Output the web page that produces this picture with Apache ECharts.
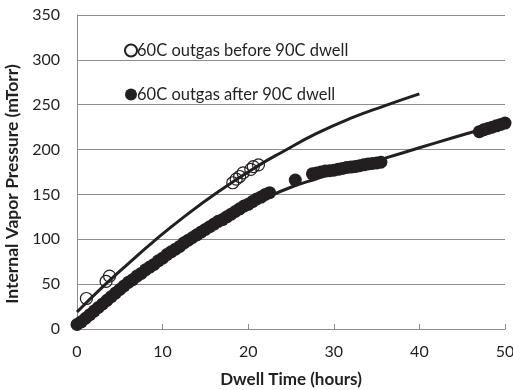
<!DOCTYPE html>
<html>
<head>
<meta charset="utf-8">
<script src="https://cdn.jsdelivr.net/npm/echarts@6/dist/echarts.min.js"></script>
<style>
html, body { margin: 0; padding: 0; background: #fff; }
#chart { width: 513px; height: 390px; }
</style>
</head>
<body>
<div id="chart"></div>
<script>
/* Open circles: 60C outgas before 90C dwell [hours, mTorr] */
var beforePoints = [
    [1.1, 34], [3.4, 53], [3.8, 59],
    [18.2, 163], [18.6, 167], [19.0, 170], [19.4, 174],
    [20.3, 178], [20.6, 181], [21.2, 183]
];

/* Filled circles: 60C outgas after 90C dwell [hours, mTorr] */
var afterPoints = [
    [0, 5], [0.5, 8], [1, 12], [1.5, 16], [2, 20], [2.5, 24], [3, 28], [3.5, 32],
    [4, 36], [4.5, 40], [5, 44], [5.5, 48], [6, 52], [6.5, 55], [7, 59], [7.5, 62],
    [8, 66], [8.5, 69], [9, 72], [9.5, 76], [10, 79], [10.5, 83], [11, 86], [11.5, 89],
    [12, 92], [12.5, 96], [13, 99], [13.5, 102], [14, 105], [14.5, 108], [15, 111],
    [15.5, 114], [16, 117], [16.5, 120], [17, 122], [17.5, 125], [18, 128], [18.5, 131],
    [19, 134], [19.5, 137], [20, 139], [20.5, 142], [21, 145], [21.5, 147], [22, 150],
    [22.5, 152],
    [25.5, 166],
    [27.5, 173], [28, 174], [28.5, 175], [29, 176], [29.5, 176.5], [30, 177], [30.5, 178],
    [31, 179], [31.5, 180], [32, 180.5], [32.5, 181], [33, 182], [33.5, 183], [34, 184],
    [34.5, 184.5], [35, 185], [35.5, 186],
    [47, 220], [47.5, 222], [48, 223.5], [48.5, 225], [49, 226.5], [49.5, 228], [50, 229.5]
];

/* Trend curves */
var beforeTrend = [
    [0, 19], [3, 47], [6, 73], [9, 98], [12.5, 125], [16.5, 153], [21, 181],
    [24.3, 199], [28, 218], [32, 235], [36, 249], [40, 262]
];
var afterTrend = [
    [0, 5], [4, 36], [8, 66], [12, 92], [16, 116], [19, 132], [22, 146], [25, 158],
    [28, 167.5], [32, 179.5], [36, 190.5], [40, 202], [44, 213.5], [48, 224.5], [50, 230]
];

var legendNames = ['60C outgas before 90C dwell', '60C outgas after 90C dwell'];

var xName = 'Dwell Time (hours)';
var yName = 'Internal Vapor Pressure (mTorr)';

var ink      = '#231f20';
var gridGray = '#8c8c8c';
var font     = 'Lato, "Open Sans", sans-serif';

var chart  = echarts.init(document.getElementById('chart'));
var option = {
    animation: false,
    textStyle: {fontFamily: font},
    grid: {left: 77, right: 8, top: 15, bottom: 61, outerBoundsMode: 'none'},
    legend: {
        data: legendNames,
        orient: 'vertical',
        left: 119,
        top: 37,
        itemGap: 27,
        itemWidth: 12,
        itemHeight: 12,
        textStyle: {color: ink, fontSize: 16.5, fontFamily: font, padding: [0, 0, 0, -5]}
    },
    xAxis: {
        type: 'value',
        min: 0,
        max: 50,
        interval: 10,
        name: xName,
        nameLocation: 'middle',
        nameGap: 42,
        nameTextStyle: {color: ink, fontSize: 17, fontWeight: 'bold', fontFamily: font},
        axisLine: {show: true, lineStyle: {color: gridGray, width: 1}},
        axisTick: {show: true, inside: true, length: 5, lineStyle: {color: gridGray}},
        axisLabel: {color: ink, fontSize: 16, margin: 15, fontFamily: font},
        splitLine: {show: false}
    },
    yAxis: {
        type: 'value',
        min: 0,
        max: 350,
        interval: 50,
        name: yName,
        nameLocation: 'middle',
        nameGap: 47,
        nameTextStyle: {color: ink, fontSize: 17.5, fontWeight: 'bold', fontFamily: font, padding: [0, 24, 0, 0]},
        axisLine: {show: true, lineStyle: {color: gridGray, width: 1}},
        axisTick: {show: false},
        axisLabel: {color: ink, fontSize: 16, margin: 17, fontFamily: font},
        splitLine: {show: true, lineStyle: {color: gridGray, width: 1}}
    },
    series: [
        {
            name: 'before trend',
            type: 'line',
            data: beforeTrend,
            smooth: true,
            symbol: 'none',
            lineStyle: {color: ink, width: 3},
            z: 3
        },
        {
            name: 'after trend',
            type: 'line',
            data: afterTrend,
            smooth: true,
            symbol: 'none',
            lineStyle: {color: ink, width: 3},
            z: 3
        },
        {
            name: legendNames[0],
            type: 'scatter',
            data: beforePoints,
            symbol: 'circle',
            symbolSize: 12,
            itemStyle: {color: 'rgba(255,255,255,0)', borderColor: ink, borderWidth: 1.2, opacity: 1},
            z: 4
        },
        {
            name: legendNames[1],
            type: 'scatter',
            data: afterPoints,
            symbol: 'circle',
            symbolSize: 13,
            itemStyle: {color: ink, opacity: 1},
            z: 5
        }
    ]
};
chart.setOption(option);
</script>
</body>
</html>
